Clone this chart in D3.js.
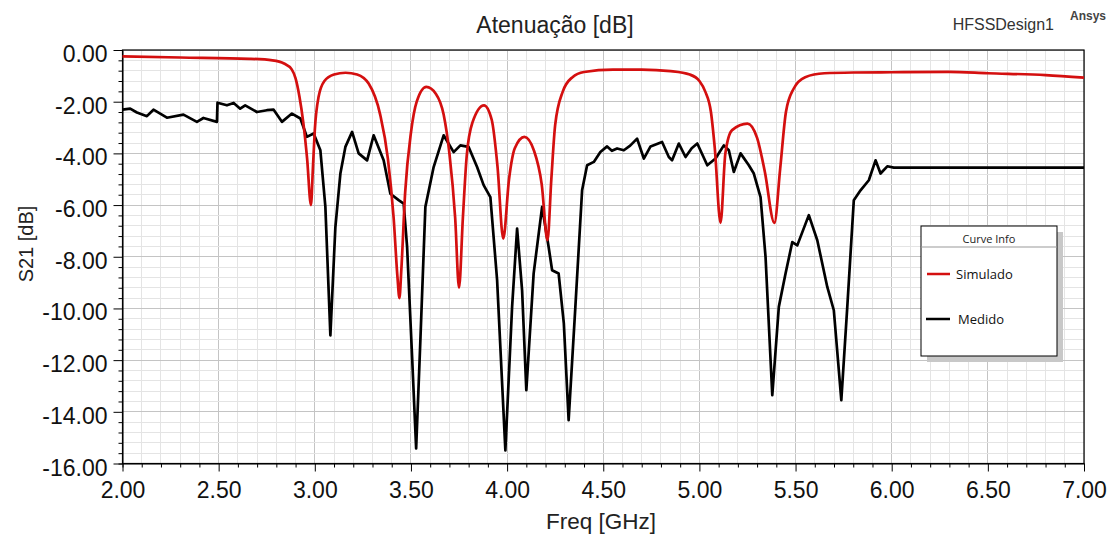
<!DOCTYPE html>
<html>
<head>
<meta charset="utf-8">
<script src="https://cdn.jsdelivr.net/npm/d3@7"></script>
<style>
  body { margin: 0; background: #fff; }
  svg { display: block; font-family: "Liberation Sans", Arial, sans-serif; }
</style>
</head>
<body>
<svg id="chart" width="1109" height="535"></svg>
<script>
// Simulado (HFSS) - [freq GHz, S21 dB]
const simulado = [
  [2.00,-0.25],[2.30,-0.29],[2.66,-0.34],[2.78,-0.40],[2.84,-0.52],[2.88,-0.75],[2.90,-1.1],
  [2.92,-1.8],[2.94,-2.8],[2.96,-4.2],[2.98,-6.0],[2.99,-4.6],[3.00,-3.1],[3.02,-1.8],[3.05,-1.2],
  [3.10,-0.95],[3.16,-0.88],[3.22,-0.95],[3.28,-1.3],[3.34,-2.5],[3.38,-4.2],[3.41,-6.5],
  [3.43,-8.8],[3.44,-9.6],[3.45,-8.5],[3.47,-5.5],[3.50,-3.2],[3.53,-2.0],[3.58,-1.43],
  [3.63,-1.7],[3.67,-2.5],[3.70,-4.0],[3.73,-6.5],[3.75,-9.2],[3.77,-6.5],[3.79,-4.1],
  [3.82,-2.8],[3.88,-2.14],[3.92,-2.7],[3.95,-4.5],[3.98,-7.3],[4.01,-5.0],[4.04,-3.8],
  [4.09,-3.36],[4.14,-3.9],[4.18,-5.2],[4.21,-7.36],[4.23,-5.0],[4.25,-2.9],[4.29,-1.6],
  [4.34,-1.05],[4.40,-0.85],[4.55,-0.76],[4.70,-0.76],[4.85,-0.82],[4.95,-0.95],[5.00,-1.2],
  [5.03,-1.6],[5.06,-2.4],[5.08,-3.8],[5.11,-6.69],[5.135,-4.0],[5.17,-3.1],[5.25,-2.85],
  [5.30,-3.4],[5.34,-4.7],[5.39,-6.69],[5.42,-4.6],[5.45,-2.4],[5.49,-1.5],[5.55,-1.05],
  [5.65,-0.9],[5.80,-0.87],[6.00,-0.86],[6.30,-0.85],[6.50,-0.9],[6.80,-0.97],[7.00,-1.07]
];

// Medido (measured) - [freq GHz, S21 dB]
const medido = [
  [2.000,-2.31],[2.040,-2.27],[2.075,-2.42],[2.127,-2.56],[2.161,-2.31],[2.231,-2.62],
  [2.317,-2.50],[2.387,-2.78],[2.421,-2.63],[2.491,-2.78],[2.494,-2.04],[2.543,-2.14],
  [2.578,-2.05],[2.612,-2.27],[2.638,-2.14],[2.699,-2.40],[2.751,-2.33],[2.786,-2.31],
  [2.829,-2.78],[2.881,-2.46],[2.925,-2.65],[2.959,-3.36],[2.994,-3.23],[3.029,-3.88],
  [3.055,-6.07],[3.081,-11.04],[3.107,-6.85],[3.133,-4.78],[3.159,-3.75],[3.194,-3.17],
  [3.228,-4.0],[3.272,-4.27],[3.306,-3.30],[3.358,-4.27],[3.393,-5.56],[3.436,-5.81],
  [3.462,-5.94],[3.480,-7.62],[3.506,-11.88],[3.527,-15.42],[3.549,-11.23],[3.575,-6.07],
  [3.618,-4.53],[3.670,-3.30],[3.722,-3.95],[3.757,-3.69],[3.800,-3.75],[3.844,-4.53],
  [3.878,-5.23],[3.913,-5.69],[3.948,-8.9],[3.991,-15.49],[4.026,-9.94],[4.052,-6.91],
  [4.078,-9.3],[4.100,-13.16],[4.138,-8.65],[4.182,-6.07],[4.216,-7.62],[4.234,-8.52],
  [4.268,-8.65],[4.295,-10.58],[4.320,-14.32],[4.355,-9.94],[4.390,-5.43],[4.416,-4.46],
  [4.451,-4.33],[4.485,-3.95],[4.520,-3.73],[4.545,-3.90],[4.572,-3.81],[4.607,-3.88],
  [4.640,-3.70],[4.676,-3.43],[4.711,-4.20],[4.746,-3.73],[4.806,-3.56],[4.841,-4.14],
  [4.858,-4.27],[4.893,-3.62],[4.928,-4.14],[4.960,-3.80],[4.989,-3.62],[5.041,-4.46],
  [5.084,-4.20],[5.127,-3.69],[5.153,-3.88],[5.179,-4.72],[5.214,-4.00],[5.257,-4.46],
  [5.283,-4.78],[5.318,-5.69],[5.344,-8.01],[5.379,-13.36],[5.413,-9.94],[5.448,-8.65],
  [5.483,-7.43],[5.509,-7.56],[5.569,-6.39],[5.613,-7.36],[5.665,-9.17],[5.699,-10.07],
  [5.738,-13.55],[5.769,-9.94],[5.803,-5.81],[5.838,-5.43],[5.881,-5.04],[5.916,-4.27],
  [5.942,-4.78],[5.977,-4.50],[6.011,-4.55],[7.000,-4.55]
];

const xTicks = [2.0, 2.5, 3.0, 3.5, 4.0, 4.5, 5.0, 5.5, 6.0, 6.5, 7.0];
const yTicks = [0, -2, -4, -6, -8, -10, -12, -14, -16];
const seriesNames = ["Simulado", "Medido"];
const seriesColors = ["#d40f0f", "#000000"];

const svg = d3.select("#chart");
const plot = { left: 122.5, right: 1084, top: 50, bottom: 463.5 };

const x = d3.scaleLinear().domain([2, 7]).range([plot.left, plot.right]);
const y = d3.scaleLinear().domain([-16, 0]).range([plot.bottom, plot.top]);

// plain hyphen instead of d3's unicode minus
const fmt = d => (d < 0 ? "-" : "") + Math.abs(d).toFixed(2);

// grid
const grid = svg.append("g");
const xMinor = d3.range(20, 71).map(d => d / 10);
const yMinor = d3.range(0, 41).map(d => -d * 0.4);
grid.selectAll(".vx").data(xMinor).join("line")
  .attr("x1", d => x(d)).attr("x2", d => x(d))
  .attr("y1", plot.top).attr("y2", plot.bottom)
  .attr("stroke", (d, i) => i % 5 === 0 ? "#c4c4c4" : "#e4e4e4")
  .attr("stroke-width", 1).attr("shape-rendering", "crispEdges");
grid.selectAll(".hy").data(yMinor).join("line")
  .attr("x1", plot.left).attr("x2", plot.right)
  .attr("y1", d => y(d)).attr("y2", d => y(d))
  .attr("stroke", (d, i) => i % 5 === 0 ? "#c4c4c4" : "#e4e4e4")
  .attr("stroke-width", 1).attr("shape-rendering", "crispEdges");

// axes
const xAxis = svg.append("g").attr("transform", `translate(0,${plot.bottom})`);
xAxis.call(d3.axisBottom(x).tickValues(xMinor).tickSize(4).tickFormat(""));
xAxis.call(g => g.selectAll(".tick").filter(d => xTicks.some(t => Math.abs(t - d) < 1e-6))
  .select("line").attr("y2", 8));
const xLab = svg.append("g").attr("transform", `translate(0,${plot.bottom})`);
xLab.call(d3.axisBottom(x).tickValues(xTicks).tickSize(0).tickPadding(18).tickFormat(fmt));
xLab.select(".domain").remove();
xLab.selectAll("text").attr("font-size", 23).attr("fill", "#111")
  .attr("font-family", "Liberation Sans, Arial, sans-serif");

const yAxis = svg.append("g").attr("transform", `translate(${plot.left},0)`);
yAxis.call(d3.axisLeft(y).tickValues(yMinor).tickSize(4).tickFormat(""));
yAxis.call(g => g.selectAll(".tick").filter(d => yTicks.some(t => Math.abs(t - d) < 1e-6))
  .select("line").attr("x2", -9));
const yLab = svg.append("g").attr("transform", `translate(${plot.left},0)`);
yLab.call(d3.axisLeft(y).tickValues(yTicks).tickSize(0).tickPadding(15).tickFormat(fmt));
yLab.select(".domain").remove();
yLab.selectAll("text").attr("font-size", 23).attr("fill", "#111").attr("dy", "0.5em")
  .attr("font-family", "Liberation Sans, Arial, sans-serif");

// frame
svg.append("rect")
  .attr("x", plot.left).attr("y", plot.top)
  .attr("width", plot.right - plot.left).attr("height", plot.bottom - plot.top)
  .attr("fill", "none").attr("stroke", "#000").attr("stroke-width", 1.2);

// curves
const lineSmooth = d3.line().x(d => x(d[0])).y(d => y(d[1])).curve(d3.curveMonotoneX);
const lineRaw = d3.line().x(d => x(d[0])).y(d => y(d[1]));

svg.append("path").datum(medido)
  .attr("d", lineRaw).attr("fill", "none")
  .attr("stroke", seriesColors[1]).attr("stroke-width", 2.7).attr("stroke-linejoin", "round");
svg.append("path").datum(simulado)
  .attr("d", lineSmooth).attr("fill", "none")
  .attr("stroke", seriesColors[0]).attr("stroke-width", 2.7).attr("stroke-linejoin", "round");

// titles
svg.append("text").attr("x", 555).attr("y", 33).attr("text-anchor", "middle")
  .attr("font-size", 23).attr("fill", "#222").text("Atenuação [dB]");
svg.append("text").attr("x", 1054).attr("y", 30).attr("text-anchor", "end")
  .attr("font-size", 16).attr("fill", "#333").text("HFSSDesign1");
svg.append("text").attr("x", 1070).attr("y", 20)
  .attr("font-size", 12).attr("font-weight", "bold").attr("fill", "#444").text("Ansys");
svg.append("text").attr("x", 601).attr("y", 529).attr("text-anchor", "middle")
  .attr("font-size", 22.5).attr("fill", "#222").text("Freq [GHz]");
svg.append("text").attr("transform", "translate(33,244) rotate(-90)").attr("text-anchor", "middle")
  .attr("font-size", 20).attr("fill", "#222").text("S21 [dB]");

// legend
const lg = svg.append("g").attr("transform", "translate(921,226)");
lg.append("rect").attr("x", 6).attr("y", 6).attr("width", 136).attr("height", 130).attr("fill", "#c8c8c8");
lg.append("rect").attr("width", 136).attr("height", 130).attr("fill", "#fff")
  .attr("stroke", "#000").attr("stroke-width", 1);
lg.append("text").attr("x", 68).attr("y", 17).attr("text-anchor", "middle")
  .attr("font-size", 11).attr("font-family", "Open Sans, sans-serif").attr("fill", "#222").text("Curve Info");
lg.append("line").attr("x1", 0).attr("x2", 136).attr("y1", 21).attr("y2", 21).attr("stroke", "#999");
seriesNames.forEach((name, i) => {
  const yy = 48 + i * 45;
  lg.append("line").attr("x1", 6 - i).attr("x2", 29).attr("y1", yy).attr("y2", yy)
    .attr("stroke", seriesColors[i]).attr("stroke-width", 2.5);
  lg.append("text").attr("x", 35 + i * 2).attr("y", yy + 4.5)
    .attr("font-size", 13).attr("font-family", "Open Sans, sans-serif").attr("fill", "#111").text(name);
});
</script>
</body>
</html>
